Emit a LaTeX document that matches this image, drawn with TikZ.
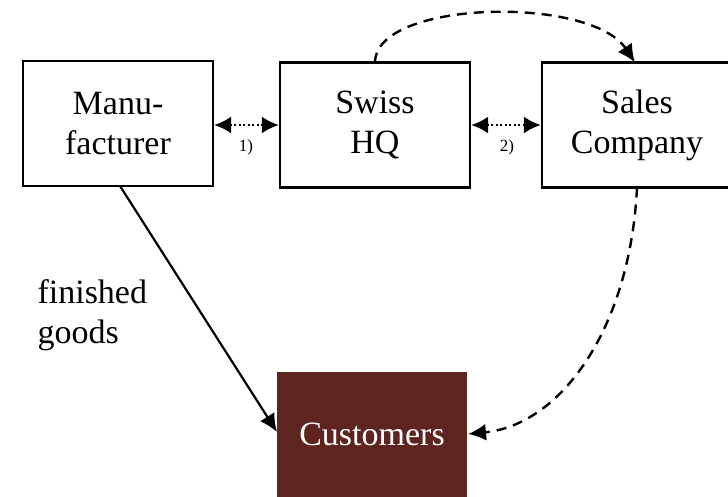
\documentclass[tikz,border=0pt]{standalone}
\usepackage{fontspec}
\setmainfont{Liberation Serif}
\usetikzlibrary{arrows.meta}
\definecolor{custred}{HTML}{5E2420}
\begin{document}
\begin{tikzpicture}[x=1pt,y=-1pt,
  big/.style={font=\fontsize{34}{40}\selectfont},
  box/.style={draw,line width=2.2pt,minimum width=190pt,minimum height=125pt,
    align=center,inner sep=0pt,big},
  tip/.style={-{Latex[length=18pt,width=17pt]}},
  link/.style={line width=2.6pt,dash pattern=on 2pt off 2.5pt,{Latex[length=17pt,width=17pt]}-{Latex[length=17pt,width=17pt]}},
  lbl/.style={font=\fontsize{17}{18}\selectfont}]
\useasboundingbox (0,0) rectangle (728,496);
\node[box] (man) at (118,123.5) {Manu-\\facturer};
\node[box] (hq) at (375,125) {Swiss\\HQ};
\node[box] (sales) at (637,125) {Sales\\Company};
\node[box,draw=none,fill=custred,minimum height=140pt] (cust) at (372,442) {};
\node[big,text=white] (custtxt) at (372,434) {Customers};
\draw[link] (man.east |- 0,125) -- (hq.west |- 0,125);
\draw[link] (hq.east |- 0,125) -- (sales.west |- 0,125);
\node[lbl] (l1) at (246,147) {1)};
\node[lbl] (l2) at (507,147) {2)};
\node[big,align=left,anchor=west] (fg) at (34,315) {finished\\goods};
\coordinate (c1) at (375,62.5);
\coordinate (c2) at (635,62.5);
\draw[tip,line width=2.4pt,dash pattern=on 10pt off 7pt] (c1) .. controls (375,0) and (590,-5) .. (c2);
\draw[tip,line width=2.2pt] (120,186) -- (277,432);
\coordinate (c3) at (637,187.5);
\draw[tip,line width=2.4pt,dash pattern=on 10pt off 7pt] (c3) .. controls (630,330) and (560,425) .. (468,434);
\end{tikzpicture}
\end{document}
